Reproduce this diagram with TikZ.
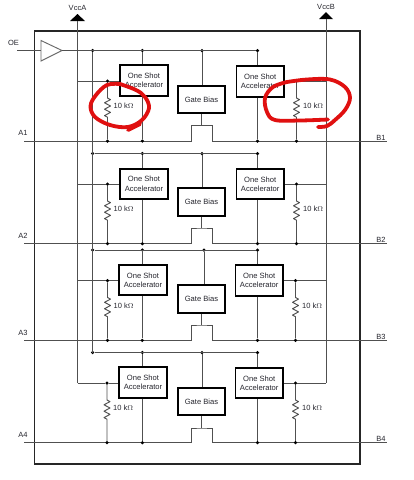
\documentclass[tikz,border=0pt]{standalone}
\usepackage{fontspec}
\setmainfont{Liberation Sans}
\definecolor{wire}{HTML}{505050}
\definecolor{ink}{HTML}{26262E}
\definecolor{mark}{HTML}{E01010}
\tikzset{
  wirep/.style={draw=wire,line width=0.95pt},
  blockbox/.style={draw=black,line width=1.9pt,fill=white,minimum width=47.5pt,minimum height=30.5pt,inner sep=0pt,align=center,text=ink,font=\fontsize{7.6}{9.3}\selectfont},
  gatebox/.style={blockbox,minimum height=27.5pt},
  dotp/.style={circle,fill=black,inner sep=0pt,minimum size=3.5pt},
  labelp/.style={inner sep=0pt,text=ink,font=\fontsize{7.5}{9}\selectfont},
  redmark/.style={draw=mark,line width=3.8pt,line cap=round,line join=round}
}
\begin{document}
\begin{tikzpicture}[x=1pt,y=-1pt]
\useasboundingbox (0,0) rectangle (414,480);
\fill[white] (0,0) rectangle (414,480);
% frame
\node[draw=black!85,line width=1.9pt,minimum width=325.5pt,minimum height=433pt,inner sep=0pt] (frame) at (197.25,247.5) {};
% supplies
\coordinate (vaTop) at (77.5,21);
\coordinate (vbTop) at (326,19);
\coordinate (vaEnd) at (77.5,383);
\coordinate (vbEnd) at (326,383);
\fill[black] (70,21) -- (77.5,14) -- (85,21) -- cycle;
\fill[black] (319,19) -- (326,12) -- (333,19) -- cycle;
\node[labelp] (vcca) at (77.5,8) {VccA};
\node[labelp] (vccb) at (326,6.5) {VccB};
\draw[wirep] (vaTop) -- (vaEnd);
\draw[wirep] (vbTop) -- (vbEnd);
% output enable
\node[labelp] (oe) at (13.5,43) {OE};
\coordinate (oeIn) at (17,50.5);
\coordinate (bufIn) at (41,50.5);
\coordinate (bufOut) at (62,50.5);
\draw[wirep] (oeIn) -- (bufIn);
\draw[draw=wire!85,line width=0.95pt,line join=miter,fill=white] (41,40.5) -- (bufOut) -- (41,61) -- cycle;
\coordinate (busEnd) at (92.7,352.5);
% rows: r / bus y / left cx / left cy / right cx / right cy / gate cx / gate cy / step y / line y / left res x / right res x / node y / gate dot x
\foreach \r/\bus/\lcx/\lcy/\rcx/\rcy/\gcx/\gcy/\st/\ay/\lres/\rres/\ny/\gd in {
 1/50.5/144/80.5/260.2/81.5/201.5/99.5/125.5/141/107.5/296.5/81/202,
 2/153.5/144/183.8/260.2/184/201.5/202/228/243.7/107.5/296.5/184/202,
 3/250/143/280/259.2/280.5/201.5/299/325/340.3/107.5/295.5/280.5/204,
 4/352.5/143/382.5/259.2/383/201.5/401.5/428/442.7/107/295.5/383/202}{
  % blocks
  \node[blockbox] (L\r) at (\lcx,\lcy) {One Shot\\Accelerator};
  \node[blockbox] (R\r) at (\rcx,\rcy) {One Shot\\Accelerator};
  \node[gatebox]  (G\r) at (\gcx,\gcy) {Gate Bias};
  % bus
  \node[dotp] (bA\r) at (92.7,\bus) {};
  \node[dotp] (bL\r) at (142.3,\bus) {};
  \node[dotp] (bG\r) at (\gd,\bus) {};
  \node[dotp] (bR\r) at (257.5,\bus) {};
  \draw[wirep] (bA\r) -- (bR\r);
  \draw[wirep] (bL\r) -- (bL\r |- L\r.north);
  \draw[wirep] (bG\r) -- (bG\r |- G\r.north);
  \draw[wirep] (bR\r) -- (bR\r |- R\r.north);
  % signal line with pass gate
  \coordinate (Ain\r) at (24,\ay);
  \coordinate (Bout\r) at (387,\ay);
  \coordinate (sA\r) at (191,\ay);
  \coordinate (sB\r) at (212,\ay);
  \coordinate (stub\r) at (201.7,\st);
  \draw[wirep] (Ain\r) -- (sA\r) |- (stub\r) -| (sB\r) -- (Bout\r);
  \draw[wirep] (G\r.south -| stub\r) -- (stub\r);
  \node[dotp] (aL\r) at (\lres,\ay) {};
  \node[dotp] (aB\r) at (142.3,\ay) {};
  \node[dotp] (aR\r) at (\rres,\ay) {};
  \node[dotp] (aS\r) at (257.5,\ay) {};
  \draw[wirep] (aB\r |- L\r.south) -- (aB\r);
  \draw[wirep] (aS\r |- R\r.south) -- (aS\r);
  % pull-ups
  \node[dotp] (nL\r) at (\lres,\ny) {};
  \node[dotp] (nR\r) at (\rres,\ny) {};
  \draw[wirep] (vaEnd |- nL\r) -- (nL\r) -- (L\r.west |- nL\r);
  \draw[wirep] (R\r.east |- nR\r) -- (nR\r) -- (vbEnd |- nR\r);
  \foreach \s/\t in {L/A,R/B}{
    \draw[draw=wire,line width=0.95pt,line join=round] (n\s\r) -- ++(0,17) -- ++(3,1.6) -- ++(-6,3.2) -- ++(6,3.2) -- ++(-6,3.2) -- ++(6,3.2) -- ++(-6,3.2) -- ++(3,1.6) -- (a\s\r);
  }
  \node[labelp,anchor=west] (rl\r) at (\lres+6,\ny+25.3) {10 k$\Omega$};
  \node[labelp,anchor=west] (rr\r) at (\rres+6.5,\ny+25.3) {10 k$\Omega$};
  % pin labels
  \node[labelp] (pA\r) at (23,\ay-7.7) {A\r};
  \node[labelp] (pB\r) at (381,\ay-3.5) {B\r};
}
\draw[wirep] (bufOut) -- (bR1);
\draw[wirep] (bA1) -- (busEnd);
% red hand marks
\draw[redmark] plot[smooth,tension=0.6] coordinates {(120,84) (107,85) (96,95) (90.5,106) (95,117) (110,125) (128,127) (142,120) (149,108) (145,97) (136,90) (120,84)};
\draw[redmark] (128,130) -- (140,124);
\draw[redmark] plot[smooth,tension=0.6] coordinates {(287,82) (273,87) (265,98) (267,112) (275,120) (300,120.5) (328,119.5)};
\draw[redmark] plot[smooth,tension=0.6] coordinates {(287,82) (307,79.5) (330,79.5) (345,87) (350,98) (345,110) (335,120) (327,126) (318,127)};
\end{tikzpicture}
\end{document}
